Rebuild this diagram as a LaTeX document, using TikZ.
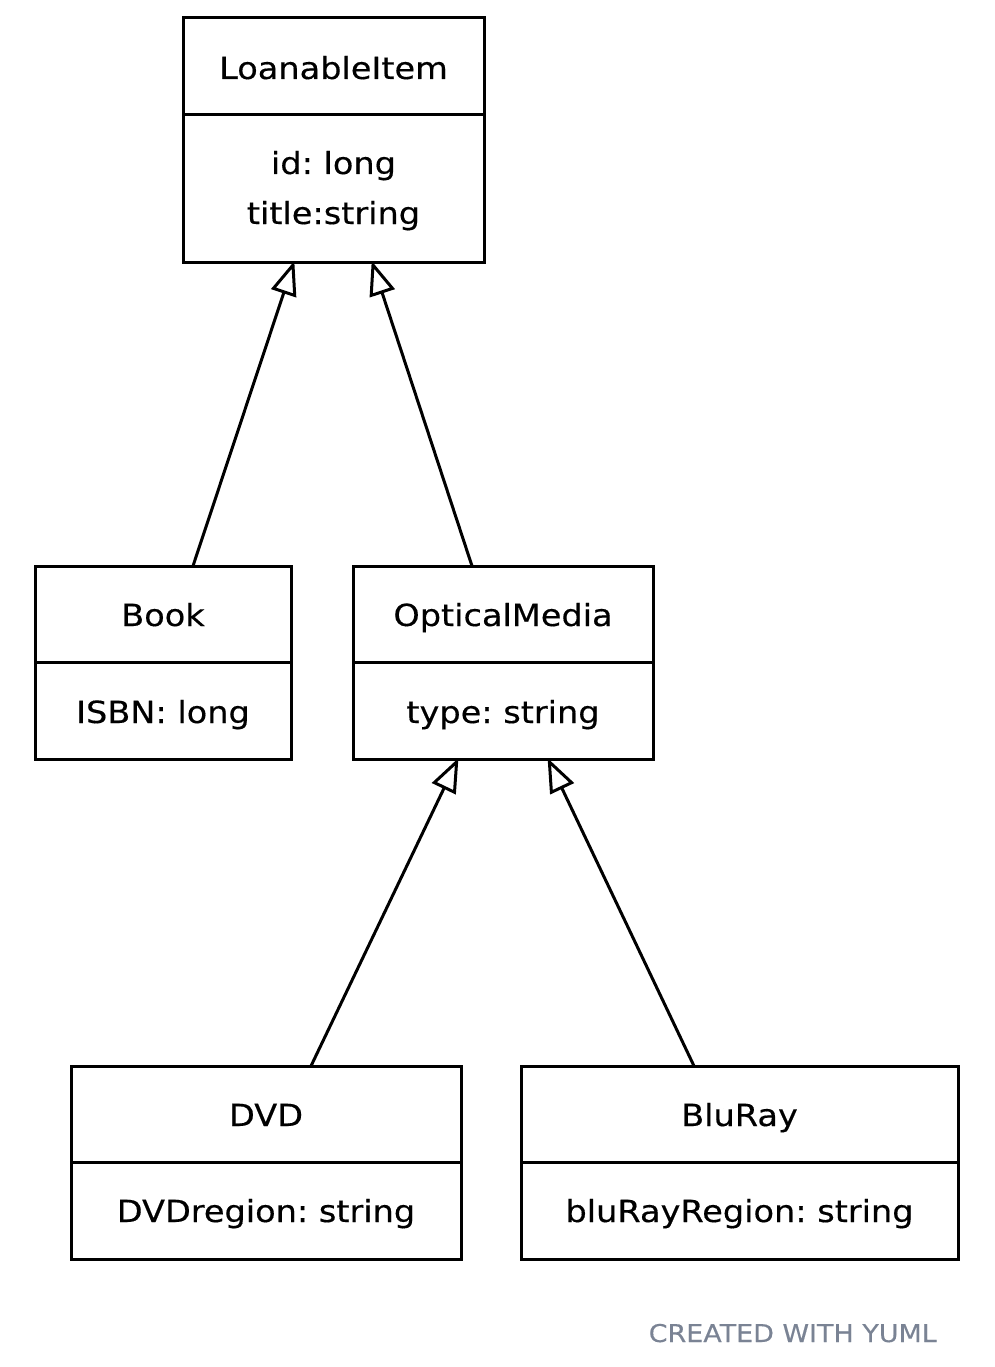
\documentclass[tikz,border=0pt]{standalone}
\usepackage{fontspec}
\setmainfont{DejaVu Sans}[FakeStretch=1.1,FakeBold=0.4]
\usetikzlibrary{arrows.meta}
\definecolor{footgray}{HTML}{7A8394}
\frenchspacing
\tikzset{
  classbox/.style={draw, line width=3pt, inner sep=0pt},
  divline/.style={line width=3pt},
  lbl/.style={anchor=base, inner sep=0pt, font=\fontsize{30.5}{36}\selectfont},
  inherit/.style={line width=3pt, -{Triangle[open, length=34pt, width=26pt, line width=3pt]}, shorten >=-1pt},
}
\begin{document}
\begin{tikzpicture}[x=1pt,y=-1pt]
\useasboundingbox (0,0) rectangle (995,1367);
% LoanableItem
\node[classbox, minimum width=301pt, minimum height=244pt] (loan) at (333.5,140) {};
\draw[divline] (183,115) -- (484,115);
\node[lbl] (loanT) at (333.5,79) {LoanableItem};
\node[lbl] (loanA) at (333.5,174) {id: long};
\node[lbl] (loanB) at (333.5,224) {title:string};
% Book
\node[classbox, minimum width=256pt, minimum height=193pt] (book) at (163,662.5) {};
\draw[divline] (35,662) -- (291,662);
\node[lbl] (bookT) at (163,626) {Book};
\node[lbl] (bookA) at (163,723) {ISBN: long};
% OpticalMedia
\node[classbox, minimum width=300pt, minimum height=193pt] (opt) at (503,662.5) {};
\draw[divline] (353,662) -- (653,662);
\node[lbl] (optT) at (503,626) {OpticalMedia};
\node[lbl] (optA) at (503,723) {type: string};
% DVD
\node[classbox, minimum width=390pt, minimum height=193pt] (dvd) at (266,1162.5) {};
\draw[divline] (71,1162) -- (461,1162);
\node[lbl] (dvdT) at (266,1126) {DVD};
\node[lbl] (dvdA) at (266,1222) {DVDregion: string};
% BluRay
\node[classbox, minimum width=437pt, minimum height=193pt] (blu) at (739.5,1162.5) {};
\draw[divline] (521,1162) -- (958,1162);
\node[lbl] (bluT) at (739.5,1126) {BluRay};
\node[lbl] (bluA) at (739.5,1222) {bluRayRegion: string};
% connector endpoints
\coordinate (c1s) at (193,566);
\coordinate (c1e) at (294,262);
\coordinate (c2s) at (472,566);
\coordinate (c2e) at (372,262);
\coordinate (c3s) at (311,1066);
\coordinate (c3e) at (458,759);
\coordinate (c4s) at (694,1066);
\coordinate (c4e) at (548,759);
\draw[inherit] (c1s) -- (c1e);
\draw[inherit] (c2s) -- (c2e);
\draw[inherit] (c3s) -- (c3e);
\draw[inherit] (c4s) -- (c4e);
% footer
\node[anchor=base east, inner sep=0pt, text=footgray, font=\fontsize{24.5}{29}\selectfont] (foot) at (937,1342) {CREATED WITH YUML};
\end{tikzpicture}
\end{document}
